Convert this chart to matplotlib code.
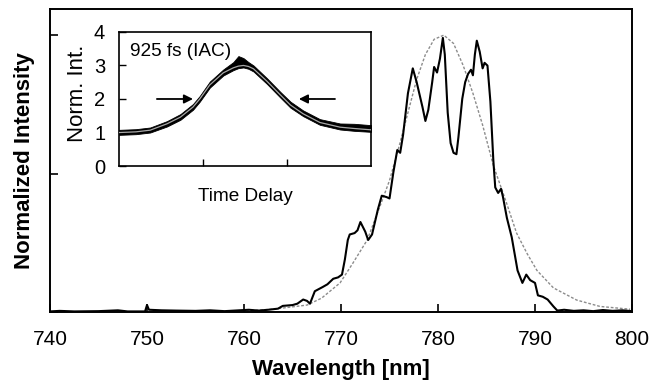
import matplotlib
matplotlib.use("Agg")
import matplotlib.pyplot as plt

plt.rcParams['font.family'] = ['Liberation Sans', 'DejaVu Sans']

# ---- main spectrum (measured) ----
wl = [740.0, 741.0, 742.5, 745.0, 747.0, 748.0, 749.8, 750.0, 750.2, 751.5, 753.0,
      755.0, 756.5, 758.0, 759.5, 760.5, 761.5, 762.5, 763.5, 764.0, 765.0, 765.5,
      766.1, 766.5, 766.8, 767.3, 768.1, 768.6, 769.2, 769.7, 770.1, 770.4, 770.7,
      770.9, 771.4, 771.7, 772.0, 772.5, 772.8, 773.2, 773.8, 774.2, 774.7, 775.0,
      775.4, 775.8, 776.1, 776.4, 776.9, 777.4, 777.8, 778.4, 778.7, 779.0, 779.4,
      779.6, 779.9, 780.2, 780.5, 780.7, 781.0, 781.3, 781.6, 781.9, 782.1, 782.5,
      782.8, 783.1, 783.4, 783.6, 783.8, 784.0, 784.3, 784.6, 784.8, 785.1, 785.4,
      785.7, 785.9, 786.2, 786.5, 786.7, 787.1, 787.6, 788.0, 788.2, 788.7, 789.1,
      789.5, 790.0, 790.3, 790.8, 791.3, 791.9, 792.3, 793.0, 794.0, 795.0, 796.0,
      797.0, 798.0, 799.0, 800.0]
spec = [0.002, 0.004, 0.002, 0.003, 0.006, 0.002, 0.002, 0.025, 0.008, 0.006, 0.005,
        0.004, 0.006, 0.003, 0.006, 0.008, 0.005, 0.008, 0.012, 0.022, 0.025, 0.030,
        0.045, 0.040, 0.030, 0.075, 0.090, 0.100, 0.120, 0.125, 0.135, 0.190, 0.260,
        0.280, 0.285, 0.295, 0.325, 0.290, 0.260, 0.280, 0.370, 0.420, 0.415, 0.410,
        0.505, 0.585, 0.575, 0.640, 0.790, 0.880, 0.830, 0.740, 0.690, 0.730, 0.830,
        0.885, 0.865, 0.915, 0.990, 0.930, 0.720, 0.610, 0.575, 0.570, 0.630, 0.770,
        0.830, 0.860, 0.875, 0.855, 0.930, 0.980, 0.940, 0.880, 0.900, 0.890, 0.760,
        0.550, 0.450, 0.430, 0.445, 0.415, 0.340, 0.270, 0.190, 0.150, 0.105, 0.135,
        0.115, 0.105, 0.060, 0.055, 0.045, 0.020, 0.005, 0.008, 0.004, 0.006, 0.003,
        0.007, 0.004, 0.006, 0.003]

# ---- fitted spectrum (grey dotted) ----
fit_wl = [756.0, 760.0, 763.0, 766.5, 768.0, 769.9, 771.2, 772.7, 774.0, 775.0,
          776.0, 776.9, 777.8, 778.7, 779.6, 780.6, 781.6, 782.6, 783.6, 784.6,
          785.7, 786.4, 787.1, 788.1, 789.2, 790.2, 791.9, 794.3, 796.7, 799.8]
fit_val = [0.0, 0.004, 0.010, 0.025, 0.050, 0.105, 0.175, 0.260, 0.380, 0.475,
           0.600, 0.720, 0.840, 0.930, 0.985, 1.000, 0.970, 0.890, 0.790, 0.675,
           0.530, 0.460, 0.390, 0.285, 0.210, 0.150, 0.087, 0.043, 0.020, 0.010]

# ---- inset: autocorrelation ----
tau = [0.0, 0.2, 0.37, 0.57, 0.73, 0.88, 0.96, 1.08, 1.24, 1.36, 1.42, 1.48,
       1.54, 1.60, 1.76, 1.92, 2.04, 2.19, 2.39, 2.63, 2.8, 3.0]
iac_fit = [1.00, 1.02, 1.07, 1.26, 1.46, 1.76, 2.00, 2.42, 2.78, 2.93, 2.98, 3.00,
           2.97, 2.90, 2.53, 2.12, 1.82, 1.56, 1.30, 1.16, 1.12, 1.08]
iac_lo = [0.93, 0.95, 1.00, 1.18, 1.38, 1.68, 1.92, 2.34, 2.70, 2.86, 2.92, 2.94,
          2.90, 2.82, 2.45, 2.04, 1.74, 1.49, 1.23, 1.09, 1.05, 1.02]
iac_hi = [1.08, 1.10, 1.15, 1.34, 1.55, 1.85, 2.09, 2.52, 2.88, 3.10, 3.28, 3.22,
          3.10, 3.00, 2.62, 2.21, 1.92, 1.66, 1.40, 1.27, 1.26, 1.22]

xticks_main = [740, 750, 760, 770, 780, 790, 800]
yticks_inset = [0, 1, 2, 3, 4]

fig = plt.figure(figsize=(6.58, 3.80), dpi=100)
ax = fig.add_axes([0.076, 0.179, 0.8845, 0.797])
ax.plot(wl, spec, color='black', lw=1.5, zorder=3)
ax.plot(fit_wl, fit_val, color='#8c8c8c', lw=1.0, ls=(0, (2.0, 1.3)), zorder=2)
ax.set_xlim(740, 800)
ax.set_ylim(0, 1.094)
ax.set_xticks(xticks_main)
ax.set_xticklabels([str(t) for t in xticks_main], fontsize=15)
ax.set_yticks([0, 0.5, 1.0])
ax.set_yticklabels([])
ax.tick_params(direction='in', length=6, width=1.2, top=False, right=False, pad=13)
for s in ax.spines.values():
    s.set_linewidth(1.4)
ax.set_xlabel('Wavelength [nm]', fontsize=16, fontweight='bold')
ax.set_ylabel('Normalized Intensity', fontsize=16, fontweight='bold')
ax.xaxis.set_label_coords(0.5, -0.155)
ax.yaxis.set_label_coords(-0.026, 0.5)

# inset
ins = fig.add_axes([0.181, 0.563, 0.383, 0.353])
ins.fill_between(tau, iac_lo, iac_hi, color='black', lw=0.6, edgecolor='black', zorder=2)
ins.plot(tau, iac_fit, color='#a8a8a8', lw=0.9, zorder=3)
ins.set_xlim(0, 3)
ins.set_ylim(0, 4)
ins.set_xticks([1, 2])
ins.set_xticklabels([])
ins.set_yticks(yticks_inset)
ins.set_yticklabels([str(t) for t in yticks_inset], fontsize=14.5)
ins.tick_params(direction='in', length=5, width=1.0, pad=10)
for s in ins.spines.values():
    s.set_linewidth(1.2)
ins.set_xlabel('Time Delay', fontsize=13.7, labelpad=6)
ins.set_ylabel('Norm. Int.', fontsize=16)
ins.yaxis.set_label_coords(-0.125, 0.54)
ins.text(0.13, 3.42, '925 fs (IAC)', fontsize=13.7, va='center', ha='left')
ap = dict(arrowstyle='-|>', color='black', lw=1.3, mutation_scale=13, shrinkA=0, shrinkB=0)
ins.annotate('', xy=(0.88, 2.0), xytext=(0.45, 2.0), arrowprops=ap)
ins.annotate('', xy=(2.14, 2.0), xytext=(2.57, 2.0), arrowprops=ap)

fig.savefig('out.png', dpi=100)
